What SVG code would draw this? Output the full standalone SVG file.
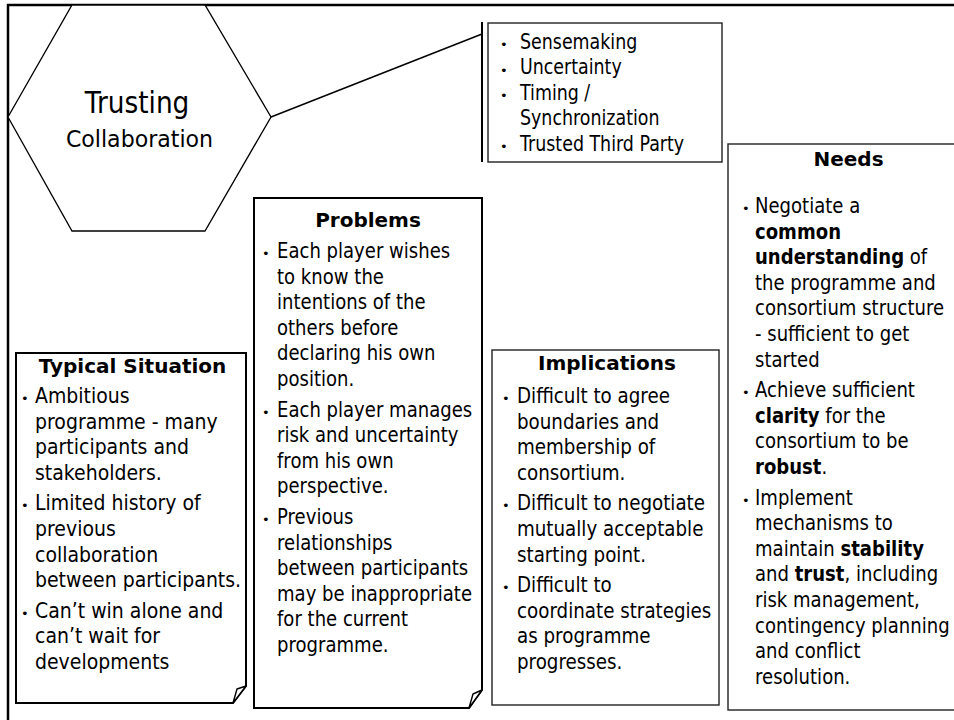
<svg xmlns="http://www.w3.org/2000/svg" width="954" height="720" viewBox="0 0 954 720">
<style>
text{font-family:"DejaVu Sans","Liberation Sans",sans-serif;fill:#000}
.t{font-weight:bold;font-size:20px;text-anchor:middle}
.b{font-size:13px}
.tx{font-size:21px}
.bo{font-weight:bold}
.box{fill:#fff;stroke:#000;stroke-width:2}
.thin{fill:#fff;stroke:#222;stroke-width:1.4}
.flap{fill:#fff;stroke:#000;stroke-width:1.4;stroke-linejoin:round}
</style>
<rect width="954" height="720" fill="#fff"/>
<path d="M8,720 V5 H954" fill="none" stroke="#000" stroke-width="2.5"/>
<g id="connectors">
<line x1="271" y1="117" x2="482" y2="34" stroke="#000" stroke-width="1.5"/>
<line x1="482" y1="22" x2="482" y2="162" stroke="#000" stroke-width="2"/>
</g>
<g id="trusting-collaboration">
<polygon points="72,5 205,5 271,117 205,231 72,231 8,117" fill="#fff" stroke="#000" stroke-width="1.3"/>
<text transform="translate(137,0) scale(0.88,1)" x="0" y="113" font-size="30" text-anchor="middle">Trusting</text>
<text transform="translate(139.5,0) scale(0.94,1)" x="0" y="147" font-size="23.5" text-anchor="middle">Collaboration</text>
</g>
<g id="factors">
<rect class="thin" x="488" y="23" width="234" height="139"/>
<g class="b"><text x="500" y="49">•</text><text x="500" y="74.5">•</text><text x="500" y="100">•</text><text x="500" y="151">•</text></g>
<g class="tx" transform="translate(520,0) scale(0.83,1)">
<text x="0" y="49">Sensemaking</text>
<text x="0" y="74.5">Uncertainty</text>
<text x="0" y="100">Timing /</text>
<text x="0" y="125.5">Synchronization</text>
<text x="0" y="151">Trusted Third Party</text>
</g>
</g>
<g id="typical-situation">
<path class="box" d="M16,353 H246 V686 L233,703 H16 Z"/>
<path class="flap" d="M233,703 L237,689 L246,686 Z"/>
<text class="t" x="132.5" y="373" font-size="21">Typical Situation</text>
<g class="b"><text x="21" y="403">•</text><text x="21" y="510">•</text><text x="21" y="618">•</text></g>
<g class="tx" transform="translate(35,0) scale(0.9,1)">
<text x="0" y="403">Ambitious</text>
<text x="0" y="428.6">programme - many</text>
<text x="0" y="454.2">participants and</text>
<text x="0" y="479.8">stakeholders.</text>
<text x="0" y="510.4">Limited history of</text>
<text x="0" y="536">previous</text>
<text x="0" y="561.6">collaboration</text>
<text x="0" y="587.2">between participants.</text>
<text x="0" y="617.8">Can’t win alone and</text>
<text x="0" y="643.4">can’t wait for</text>
<text x="0" y="669">developments</text>
</g>
</g>
<g id="problems">
<path class="box" d="M254,198 H482 V690 L469,708 H254 Z"/>
<path class="flap" d="M469,708 L473,694 L482,690 Z"/>
<text class="t" x="368" y="227" font-size="20.5">Problems</text>
<g class="b"><text x="262" y="258">•</text><text x="262" y="416.6">•</text><text x="262" y="524">•</text></g>
<g class="tx" transform="translate(277,0) scale(0.86,1)">
<text x="0" y="258">Each player wishes</text>
<text x="0" y="283.6">to know the</text>
<text x="0" y="309.2">intentions of the</text>
<text x="0" y="334.8">others before</text>
<text x="0" y="360.4">declaring his own</text>
<text x="0" y="386">position.</text>
<text x="0" y="416.6">Each player manages</text>
<text x="0" y="442.2">risk and uncertainty</text>
<text x="0" y="467.8">from his own</text>
<text x="0" y="493.4">perspective.</text>
<text x="0" y="524">Previous</text>
<text x="0" y="549.6">relationships</text>
<text x="0" y="575.2">between participants</text>
<text x="0" y="600.8">may be inappropriate</text>
<text x="0" y="626.4">for the current</text>
<text x="0" y="652">programme.</text>
</g>
</g>
<g id="implications">
<rect class="thin" x="492" y="350" width="227" height="355"/>
<text class="t" x="607" y="370" font-size="19.5">Implications</text>
<g class="b"><text x="502" y="403">•</text><text x="502" y="510.4">•</text><text x="502" y="592.2">•</text></g>
<g class="tx" transform="translate(517,0) scale(0.87,1)">
<text x="0" y="403">Difficult to agree</text>
<text x="0" y="428.6">boundaries and</text>
<text x="0" y="454.2">membership of</text>
<text x="0" y="479.8">consortium.</text>
<text x="0" y="510.4">Difficult to negotiate</text>
<text x="0" y="536">mutually acceptable</text>
<text x="0" y="561.6">starting point.</text>
<text x="0" y="592.2">Difficult to</text>
<text x="0" y="617.8">coordinate strategies</text>
<text x="0" y="643.4">as programme</text>
<text x="0" y="669">progresses.</text>
</g>
</g>
<g id="needs">
<rect class="thin" x="728" y="144" width="240" height="566" stroke-width="1.8"/>
<text class="t" x="848.5" y="166" font-size="18">Needs</text>
<g class="b"><text x="742" y="213">•</text><text x="742" y="397.2">•</text><text x="742" y="504.6">•</text></g>
<g class="tx" transform="translate(755,0) scale(0.86,1)">
<text x="0" y="213">Negotiate a</text>
<text x="0" y="238.6" class="bo">common</text>
<text x="0" y="264.2"><tspan class="bo">understanding</tspan> of</text>
<text x="0" y="289.8">the programme and</text>
<text x="0" y="315.4">consortium structure</text>
<text x="0" y="341">- sufficient to get</text>
<text x="0" y="366.6">started</text>
<text x="0" y="397.2">Achieve sufficient</text>
<text x="0" y="422.8"><tspan class="bo">clarity</tspan> for the</text>
<text x="0" y="448.4">consortium to be</text>
<text x="0" y="474"><tspan class="bo">robust</tspan>.</text>
<text x="0" y="504.6">Implement</text>
<text x="0" y="530.2">mechanisms to</text>
<text x="0" y="555.8">maintain <tspan class="bo">stability</tspan></text>
<text x="0" y="581.4">and <tspan class="bo">trust</tspan>, including</text>
<text x="0" y="607">risk management,</text>
<text x="0" y="632.6">contingency planning</text>
<text x="0" y="658.2">and conflict</text>
<text x="0" y="683.8">resolution.</text>
</g>
</g>
</svg>
